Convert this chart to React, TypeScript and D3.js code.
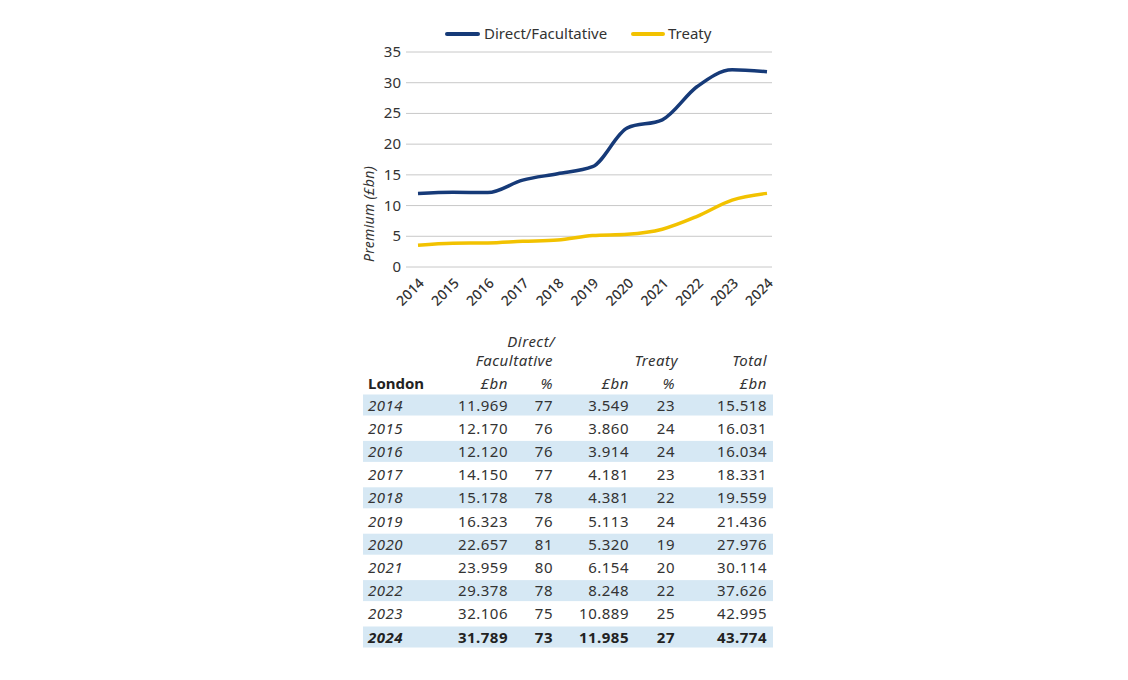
import React from "react";
import * as d3 from "d3";

const years = ["2014", "2015", "2016", "2017", "2018", "2019", "2020", "2021", "2022", "2023", "2024"];
const direct = [11.969, 12.17, 12.12, 14.15, 15.178, 16.323, 22.657, 23.959, 29.378, 32.106, 31.789];
const directPct = [77, 76, 76, 77, 78, 76, 81, 80, 78, 75, 73];
const treaty = [3.549, 3.86, 3.914, 4.181, 4.381, 5.113, 5.32, 6.154, 8.248, 10.889, 11.985];
const treatyPct = [23, 24, 24, 23, 22, 24, 19, 20, 22, 25, 27];
const total = [15.518, 16.031, 16.034, 18.331, 19.559, 21.436, 27.976, 30.114, 37.626, 42.995, 43.774];
const yTicks = [0, 5, 10, 15, 20, 25, 30, 35];

const BLUE = "#163a78";
const YELLOW = "#f2c200";
const FONT = "'Noto Sans', 'Open Sans', sans-serif";

const width = 1128;
const height = 680;

const x = d3.scalePoint<string>().domain(years).range([418, 767]);
const y = d3.scaleLinear().domain([0, 35]).range([267, 52]);
const line = d3
  .line<number>()
  .x((_, i) => x(years[i])!)
  .y((d) => y(d))
  .curve(d3.curveMonotoneX);

// table layout
const rowY = d3.scaleLinear().domain([0, years.length - 1]).range([405, 637]);
const fmt = d3.format(".3f");
const cols = [
  { right: 508, values: direct, f: fmt },
  { right: 553, values: directPct, f: String },
  { right: 629, values: treaty, f: fmt },
  { right: 675, values: treatyPct, f: String },
  { right: 767, values: total, f: fmt },
];
const unitLabels = ["£bn", "%", "£bn", "%", "£bn"];

export default function App() {
  return (
    <svg width={width} height={height} style={{ position: "absolute", left: 0, top: 0, background: "#fff" }} fontFamily={FONT}>
      {/* legend */}
      <g fontSize={15} fill="#333">
        <line x1={447} x2={478} y1={34} y2={34} stroke={BLUE} strokeWidth={4} strokeLinecap="round" />
        <text x={484} y={39}>Direct/Facultative</text>
        <line x1={633} x2={663} y1={34} y2={34} stroke={YELLOW} strokeWidth={4} strokeLinecap="round" />
        <text x={668} y={39}>Treaty</text>
      </g>

      {/* grid + y axis */}
      {yTicks.map((t) => (
        <g key={t}>
          <line x1={406} x2={772} y1={y(t)} y2={y(t)} stroke="#c8c8c8" strokeWidth={1} />
          <text x={401} y={y(t) + 5} textAnchor="end" fontSize={15} fill="#333">
            {t}
          </text>
        </g>
      ))}
      <text
        transform="translate(374,214) rotate(-90)"
        textAnchor="middle"
        fontSize={14}
        fontStyle="italic"
        fill="#333"
        letterSpacing={0.3}
      >
        Premium (£bn)
      </text>

      {/* x labels */}
      {years.map((yr) => (
        <text
          key={yr}
          transform={`translate(${x(yr)! + 7},${284}) rotate(-45)`}
          textAnchor="end"
          fontSize={14}
          fontWeight={500}
          fill="#333"
        >
          {yr}
        </text>
      ))}

      <path d={line(treaty)!} fill="none" stroke={YELLOW} strokeWidth={3.5} />
      <path d={line(direct)!} fill="none" stroke={BLUE} strokeWidth={3.5} />

      {/* table */}
      <g fontSize={15} fill="#333" letterSpacing={0.5}>
        <text x={555} y={347} textAnchor="end" fontStyle="italic">Direct/</text>
        <text x={553} y={366} textAnchor="end" fontStyle="italic">Facultative</text>
        <text x={678} y={366} textAnchor="end" fontStyle="italic">Treaty</text>
        <text x={767} y={366} textAnchor="end" fontStyle="italic">Total</text>
        <text x={368} y={389} fontWeight="bold" fill="#222" letterSpacing={0}>London</text>
        {cols.map((c, i) => (
          <text key={i} x={c.right} y={389} textAnchor="end" fontStyle="italic">
            {unitLabels[i]}
          </text>
        ))}
        {years.map((yr, i) => {
          const last = i === years.length - 1;
          return (
            <g key={yr} fontWeight={last ? "bold" : "normal"} fill={last ? "#222" : "#333"}>
              {i % 2 === 0 && (
                <rect x={363} y={rowY(i) - 10.5} width={410} height={21} fill="#d6e8f4" />
              )}
              <text x={368} y={rowY(i) + 5.5} fontStyle="italic">
                {yr}
              </text>
              {cols.map((c, j) => (
                <text key={j} x={c.right} y={rowY(i) + 5.5} textAnchor="end">
                  {c.f(c.values[i])}
                </text>
              ))}
            </g>
          );
        })}
      </g>
    </svg>
  );
}
